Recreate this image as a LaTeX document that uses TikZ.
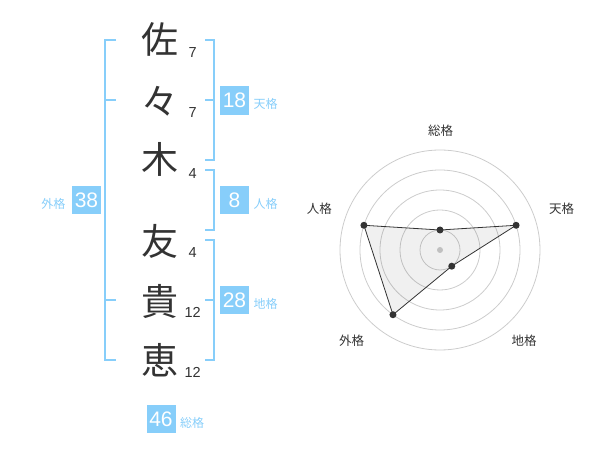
\documentclass[tikz,border=0pt]{standalone}
\usepackage{fontspec}
\setmainfont{Liberation Sans}
\newfontfamily\jp{Noto Sans CJK JP}
\definecolor{sky}{HTML}{87CEFA}
\definecolor{ink}{HTML}{333333}
\definecolor{ring}{HTML}{CCCCCC}
\begin{document}
\begin{tikzpicture}[x=1pt,y=-1pt,
  kanji/.style={font=\jp\fontsize{37}{37}\selectfont, text=ink, inner sep=0},
  strokes/.style={font=\fontsize{14.5}{15}\selectfont, text=ink, inner sep=0},
  valbox/.style={fill=sky, text=white, minimum width=29, minimum height=28.5, inner sep=0, font=\fontsize{21}{21}\selectfont},
  vlabel/.style={text=sky, font=\jp\fontsize{12}{12}\selectfont, inner sep=0},
  bracket/.style={draw=sky, line width=2},
  grid/.style={draw=ring, line width=0.8},
  axlabel/.style={text=ink, font=\jp\fontsize{12.5}{12.5}\selectfont, inner sep=0},
  dot/.style={fill=ink}]
\useasboundingbox (0,0) rectangle (600,470);

% kanji
\node[kanji] (k1) at (160,39) {佐};
\node[kanji] (k2) at (160,101) {々};
\node[kanji] (k3) at (160,159) {木};
\node[kanji] (k4) at (160,241) {友};
\node[kanji] (k5) at (160,301) {貴};
\node[kanji] (k6) at (160,360) {恵};

% stroke counts
\node[strokes] (n1) at (192.7,52.7) {7};
\node[strokes] (n2) at (192.7,112.7) {7};
\node[strokes] (n3) at (192.7,173.3) {4};
\node[strokes] (n4) at (192.7,252.7) {4};
\node[strokes] (n5) at (192.7,312.7) {12};
\node[strokes] (n6) at (192.7,372.7) {12};

% brackets
\draw[bracket] (116,40) -- (105,40) -- (105,360) -- (116,360);
\draw[bracket] (105,100) -- (116,100);
\draw[bracket] (105,300) -- (116,300);
\draw[bracket] (205,40) -- (214,40) -- (214,160) -- (205,160);
\draw[bracket] (205,100) -- (214,100);
\draw[bracket] (205,170) -- (214,170) -- (214,230) -- (205,230);
\draw[bracket] (205,240) -- (214,240) -- (214,360) -- (205,360);
\draw[bracket] (205,300) -- (214,300);

% value boxes and labels
\node[valbox] (ten) at (234.5,100.5) {18};
\node[vlabel, anchor=west] (tenl) at (253.3,104) {天格};
\node[valbox] (jin) at (234.5,200) {8};
\node[vlabel, anchor=west] (jinl) at (253.3,204) {人格};
\node[valbox] (chi) at (234.5,300) {28};
\node[vlabel, anchor=west] (chil) at (253.3,304) {地格};
\node[valbox] (gai) at (86.5,200) {38};
\node[vlabel] (gail) at (53.3,204) {外格};
\node[valbox] (sou) at (161,419) {46};
\node[vlabel, anchor=west] (soul) at (180,422.5) {総格};

% radar chart
\begin{scope}[shift={(440,250)}, y=1pt]
  \foreach \r in {20,40,60,80,100} \draw[grid] (0,0) circle (\r);
  \fill[ring] (0,0) circle (3);
  \coordinate (ps) at (90:20);
  \coordinate (pt) at (18:80);
  \coordinate (pc) at (-54:20);
  \coordinate (pg) at (-126:80);
  \coordinate (pj) at (162:80);
  \filldraw[fill=black, fill opacity=0.06, draw=ink, line width=0.8] (ps) -- (pt) -- (pc) -- (pg) -- (pj) -- cycle;
  \foreach \p in {ps,pt,pc,pg,pj} \fill[dot] (\p) circle (3.5);
\end{scope}
\node[axlabel] (ls) at (440.7,130.7) {総格};
\node[axlabel] (lt) at (561.7,208.3) {天格};
\node[axlabel] (lc) at (524,340.7) {地格};
\node[axlabel] (lg) at (351.7,340.7) {外格};
\node[axlabel] (lj) at (319.3,208.3) {人格};
\end{tikzpicture}
\end{document}
